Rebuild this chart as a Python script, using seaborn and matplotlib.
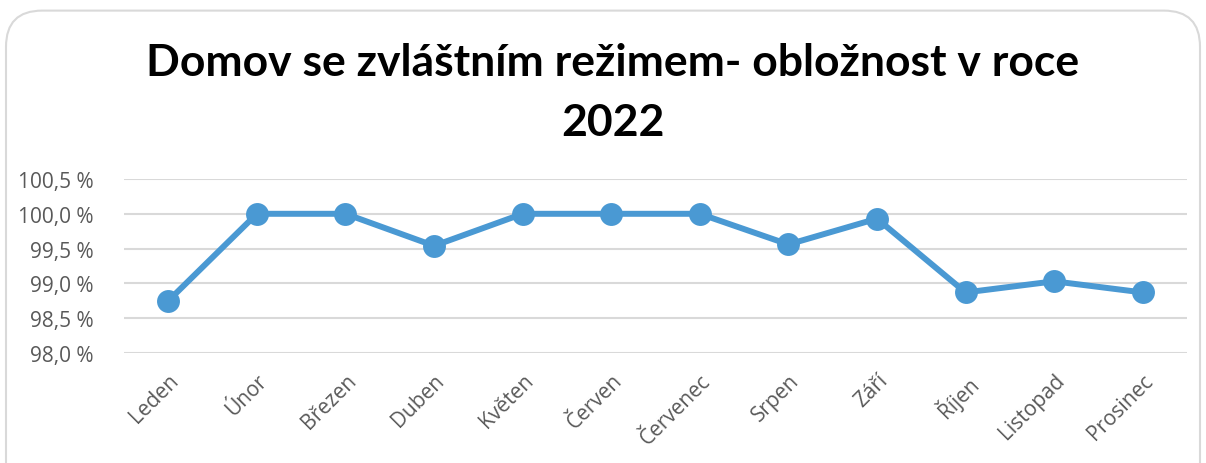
import matplotlib
matplotlib.use("Agg")
import matplotlib.pyplot as plt
import pandas as pd
import seaborn as sns
from matplotlib.patches import FancyBboxPatch
from matplotlib.ticker import FuncFormatter, MultipleLocator

# occupancy per month, %
months = ["Leden", "Únor", "Březen", "Duben", "Květen", "Červen",
          "Červenec", "Srpen", "Září", "Říjen", "Listopad", "Prosinec"]
occupancy = [98.75, 100.0, 100.0, 99.54, 100.0, 100.0,
             100.0, 99.56, 99.93, 98.87, 99.03, 98.87]
title = "Domov se zvláštním režimem- obložnost v roce\n2022"

BLUE = "#4A99D3"
GREY = "#595959"

sns.set_theme(style="white")
plt.rcParams["font.family"] = ["Open Sans", "DejaVu Sans"]

df = pd.DataFrame({"month": months, "occupancy": occupancy})

fig = plt.figure(figsize=(12.06, 4.64), dpi=100)
ax = fig.add_axes([124 / 1206, 1 - 354 / 464, (1187 - 124) / 1206, (354 - 180) / 464])

sns.lineplot(data=df, x="month", y="occupancy", sort=False, ax=ax,
             color=BLUE, linewidth=4.3, marker="o", markersize=16.5,
             markeredgewidth=0, zorder=3)

ax.set_xlim(-0.5, len(months) - 0.5)
ax.set_ylim(98.0, 100.5)
ax.yaxis.set_major_locator(MultipleLocator(0.5))
ax.yaxis.set_major_formatter(
    FuncFormatter(lambda v, _: f"{v:.1f} %".replace(".", ",")))
ax.grid(axis="y", color="#D9D9D9", linewidth=1.5)
ax.grid(axis="x", visible=False)
for s in ax.spines.values():
    s.set_visible(False)
ax.set_xlabel("")
ax.set_ylabel("")
ax.tick_params(axis="both", length=0, labelsize=15, labelcolor=GREY)
ax.tick_params(axis="y", pad=22)
ax.tick_params(axis="x", pad=12)
plt.setp(ax.get_xticklabels(), rotation=45, ha="right", va="top",
         rotation_mode="anchor")

fig.text(0.508, 0.80, title, ha="center", va="center", fontsize=32,
         fontweight="bold", family=["Lato", "DejaVu Sans"],
         linespacing=1.6, color="black")

# rounded chart frame, cut off at the bottom like the screenshot
frame = FancyBboxPatch((6 / 1206, -0.1), 1194 / 1206, 1.075,
                       boxstyle="round,pad=0,rounding_size=0.03",
                       transform=fig.transFigure, facecolor="none",
                       edgecolor="#D9D9D9", linewidth=1.5,
                       mutation_aspect=1206 / 464)
fig.patches.append(frame)

fig.savefig("out.png", dpi=100)
